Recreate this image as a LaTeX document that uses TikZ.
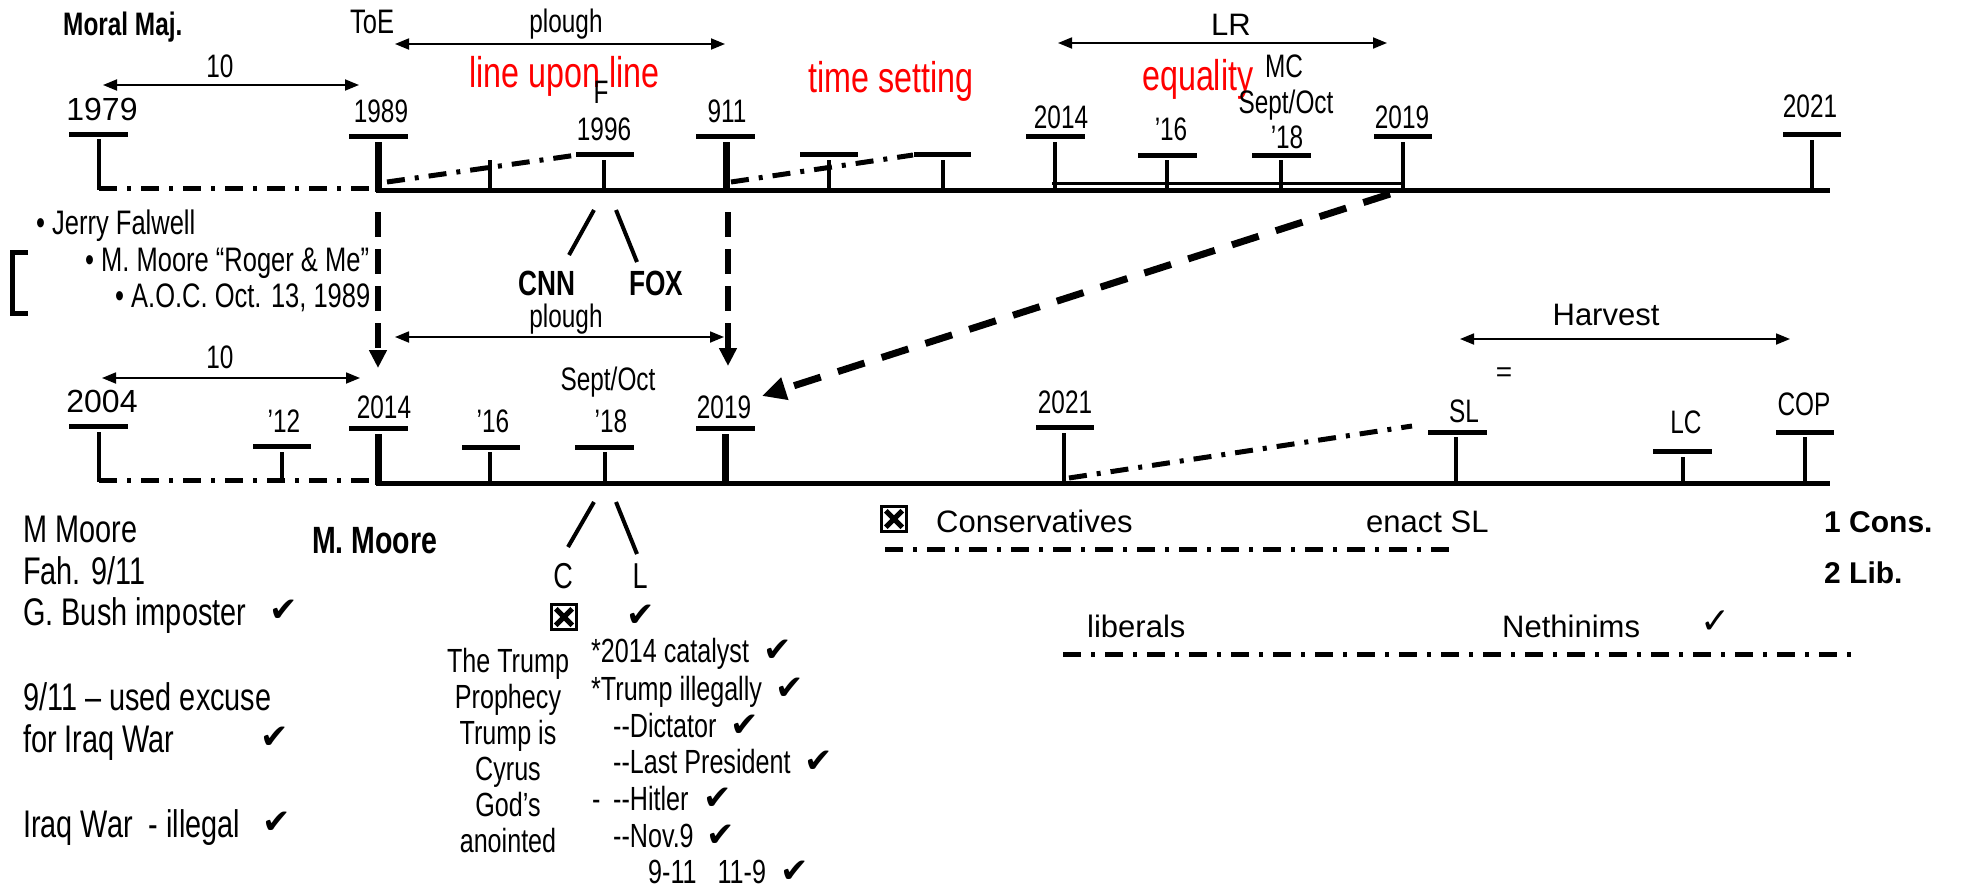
\documentclass[tikz,border=0pt]{standalone}
\usepackage{fontspec}
\setmainfont{Liberation Sans}
\newfontfamily\nf[FakeStretch=0.75]{Liberation Sans}
\newfontfamily\dv{DejaVu Sans}
\usetikzlibrary{arrows.meta}
\newcommand\fs[1]{\fontsize{#1}{#1}\selectfont}
\begin{document}
\begin{tikzpicture}[x=1pt,y=-1pt,
  lab/.style={inner sep=0pt,anchor=base,font=\nf\fs{32.5}},
  labl/.style={inner sep=0pt,anchor=base west,font=\nf\fs{32.5}},
  reg/.style={inner sep=0pt,anchor=base west,font=\fs{31}},
  big/.style={inner sep=0pt,anchor=base west,font=\nf\fs{38.5}},
  mid/.style={inner sep=0pt,anchor=base west,font=\nf\fs{33.5}},
  redtxt/.style={inner sep=0pt,anchor=base west,font=\nf\fs{43},text=red},
  bar/.style={line width=5pt},
  stem/.style={line width=4.5pt},
  bigstem/.style={line width=7pt},
  axis/.style={line width=5pt},
  dd/.style={line width=5pt,dash pattern=on 18pt off 10pt on 4pt off 10pt},
  dim/.style={line width=1.8pt,{Triangle[length=14pt,width=11pt]}-{Triangle[length=14pt,width=11pt]}},
  vdash/.style={line width=6pt,dash pattern=on 25pt off 12pt,-{Triangle[length=18pt,width=17pt]}},
  bigdash/.style={line width=7pt,dash pattern=on 28pt off 18pt,-{Triangle[length=24pt,width=22pt]}},
  chk/.style={inner sep=0pt,anchor=base,font=\dv\fs{34}},
  xbox/.style={draw,line width=3.5pt,minimum size=25pt,inner sep=0pt},
  xmark/.style={line width=5pt},
  slash/.style={line width=4pt}
]
\useasboundingbox (0,0) rectangle (1961,887);

% ---------------- top header ----------------
\node[labl,font=\nf\bfseries\fs{32.5}] (moral) at (63,35) {Moral Maj.};
\node[labl,font=\nf\fs{34}] (toe) at (350,33) {ToE};
\node[lab] (plA) at (566,32) {plough};
\coordinate (plAa) at (395,44); \coordinate (plAb) at (725,44);
\draw[dim] (plAa) -- (plAb);
\node[lab,font=\fs{31}] (lr) at (1231,35) {LR};
\coordinate (lra) at (1058,43); \coordinate (lrb) at (1387,43);
\draw[dim] (lra) -- (lrb);
\node[lab] (tenA) at (220,77) {10};
\coordinate (tenAa) at (103,85); \coordinate (tenAb) at (359,85);
\draw[dim] (tenAa) -- (tenAb);
\node[redtxt] (lul) at (469,87) {line upon line};
\node[redtxt] (ts) at (808,92) {time setting};
\node[redtxt] (eq) at (1142,90) {equality};

% ---------------- top timeline ----------------
\node[lab,font=\fs{32}] (y1979) at (102,120) {1979};
\node[lab] (y1989) at (381,122) {1989};
\node[lab] (F) at (601,103) {F};
\node[lab] (y1996) at (604,140) {1996};
\node[lab] (y911) at (727,122) {911};
\node[lab] (yA2014) at (1061,128) {2014};
\node[lab] (yA16) at (1171,140) {’16};
\node[lab] (mc) at (1284,77) {MC};
\node[lab] (soA) at (1286,113) {Sept/Oct};
\node[lab] (yA18) at (1287,148) {’18};
\node[lab] (yA2019) at (1402,128) {2019};
\node[lab] (yA2021) at (1810,117) {2021};

\draw[bar] (69,134) -- (128,134);  \draw[stem] (99,139) -- (99,190);
\draw[bar] (349,136) -- (408,136); \draw[bigstem] (378,142) -- (378,192);
\draw[stem] (490,160) -- (490,190);
\draw[bar] (576,154) -- (634,154); \draw[stem] (604,160) -- (604,190);
\draw[bar] (696,136) -- (755,136); \draw[bigstem] (726,142) -- (726,192);
\draw[bar] (800,154) -- (858,154); \draw[stem] (829,160) -- (829,190);
\draw[bar] (914,154) -- (971,154); \draw[stem] (943,160) -- (943,190);
\draw[bar] (1026,136) -- (1085,136); \draw[stem] (1055,142) -- (1055,190);
\draw[bar] (1138,155) -- (1197,155); \draw[stem] (1167,160) -- (1167,190);
\draw[bar] (1252,155) -- (1311,155); \draw[stem] (1281,160) -- (1281,190);
\draw[bar] (1374,136) -- (1432,136); \draw[stem] (1403,142) -- (1403,190);
\draw[bar] (1783,134) -- (1841,134); \draw[stem] (1812,140) -- (1812,190);
\draw[axis] (376,190) -- (1830,190);
\draw[line width=3pt] (1052,183) -- (1403,183);
\draw[dd] (99,188) -- (378,188);
\draw[dd] (387,182) -- (577,155);
\draw[dd] (731,182) -- (913,155);

% ---------------- middle ----------------
\node[labl,font=\nf\fs{34}] (b1) at (36,234) {•\ Jerry Falwell};
\node[labl,font=\nf\fs{34}] (b2) at (85,271) {•\ M. Moore “Roger \& Me”};
\node[labl,font=\nf\fs{34}] (b3) at (115,307) {•\ A.O.C. Oct. 13, 1989};
\draw[line width=5pt] (28,252) -- (12,252) -- (12,313) -- (28,313);

\coordinate (dv1a) at (378,212); \coordinate (dv1b) at (378,368);
\coordinate (dv2a) at (728,212); \coordinate (dv2b) at (728,366);
\draw[vdash] (dv1a) -- (dv1b);
\draw[vdash] (dv2a) -- (dv2b);

\draw[slash] (594,210) -- (569,255);
\draw[slash] (616,210) -- (637,262);
\node[lab,font=\nf\bfseries\fs{35}] (cnn) at (547,295) {CNN};
\node[lab,font=\nf\bfseries\fs{35}] (fox) at (656,295) {FOX};

\node[lab] (plB) at (566,327) {plough};
\coordinate (plBa) at (395,337); \coordinate (plBb) at (724,337);
\draw[dim] (plBa) -- (plBb);
\node[lab] (tenB) at (220,368) {10};
\coordinate (tenBa) at (102,378); \coordinate (tenBb) at (360,378);
\draw[dim] (tenBa) -- (tenBb);
\node[lab,font=\fs{31}] (harv) at (1606,325) {Harvest};
\coordinate (hva) at (1460,339); \coordinate (hvb) at (1790,339);
\draw[dim] (hva) -- (hvb);
\node[lab,font=\fs{28}] (eqs) at (1504,381) {=};

\coordinate (bda) at (1390,194); \coordinate (bdb) at (762,396);
\draw[bigdash] (bda) -- (bdb);

% ---------------- lower timeline ----------------
\node[lab,font=\fs{32}] (y2004) at (102,412) {2004};
\node[lab] (yB12) at (284,432) {’12};
\node[lab] (yB2014) at (384,418) {2014};
\node[lab] (yB16) at (493,432) {’16};
\node[lab] (soB) at (608,390) {Sept/Oct};
\node[lab] (yB18) at (611,432) {’18};
\node[lab] (yB2019) at (724,418) {2019};
\node[lab] (yB2021) at (1065,413) {2021};
\node[lab] (sl) at (1464,422) {SL};
\node[lab] (lc) at (1686,433) {LC};
\node[lab] (cop) at (1804,415) {COP};

\draw[bar] (69,426) -- (128,426);  \draw[stem] (99,432) -- (99,482);
\draw[bar] (253,446) -- (311,446); \draw[stem] (282,452) -- (282,480);
\draw[bar] (349,428) -- (408,428); \draw[bigstem] (378,434) -- (378,485);
\draw[bar] (462,447) -- (520,447); \draw[stem] (490,452) -- (490,483);
\draw[bar] (575,447) -- (634,447); \draw[stem] (605,452) -- (605,483);
\draw[bar] (696,428) -- (755,428); \draw[bigstem] (725,434) -- (725,485);
\draw[bar] (1036,427) -- (1094,427); \draw[stem] (1064,433) -- (1064,483);
\draw[bar] (1428,432) -- (1487,432); \draw[stem] (1456,437) -- (1456,485);
\draw[bar] (1653,451) -- (1712,451); \draw[stem] (1683,457) -- (1683,485);
\draw[bar] (1776,432) -- (1834,432); \draw[stem] (1805,437) -- (1805,485);
\draw[axis] (376,483) -- (1830,483);
\draw[dd] (99,480) -- (378,480);
\draw[dd] (1069,478) -- (1412,426);

% ---------------- bottom left ----------------
\node[big] (mm1) at (23,542) {M Moore};
\node[big] (mm2) at (23,584) {Fah. 9/11};
\node[big] (mm3) at (23,625) {G. Bush imposter};
\node[chk] (c1) at (284,621) {✔};
\node[big] (mm4) at (23,710) {9/11 – used excuse};
\node[big] (mm5) at (23,752) {for Iraq War};
\node[chk] (c2) at (275,748) {✔};
\node[big] (mm6) at (23,837) {Iraq War\ \ - illegal};
\node[chk] (c3) at (277,833) {✔};
\node[big,font=\nf\bfseries\fs{38}] (mmb) at (312,553) {M. Moore};

% ---------------- C / L split ----------------
\draw[slash] (594,502) -- (568,547);
\draw[slash] (616,502) -- (637,554);
\node[lab,font=\nf\fs{36}] (cC) at (563,588) {C};
\node[lab,font=\nf\fs{36}] (cL) at (640,588) {L};
\node[xbox] (xb1) at (564,617) {};
\draw[xmark] ([shift={(6,6)}]xb1.north west) -- ([shift={(-6,-6)}]xb1.south east);
\draw[xmark] ([shift={(-6,6)}]xb1.north east) -- ([shift={(6,-6)}]xb1.south west);
\node[chk] (cL1) at (641,626) {✔};

\node[inner sep=0pt,anchor=base,font=\nf\fs{33.5}] (tp1) at (508,672) {The Trump};
\node[inner sep=0pt,anchor=base,font=\nf\fs{33.5}] (tp2) at (508,708) {Prophecy};
\node[inner sep=0pt,anchor=base,font=\nf\fs{33.5}] (tp3) at (508,744) {Trump is};
\node[inner sep=0pt,anchor=base,font=\nf\fs{33.5}] (tp4) at (508,780) {Cyrus};
\node[inner sep=0pt,anchor=base,font=\nf\fs{33.5}] (tp5) at (508,816) {God’s};
\node[inner sep=0pt,anchor=base,font=\nf\fs{33.5}] (tp6) at (508,852) {anointed};

\node[mid] (r1) at (591,662) {*2014 catalyst};
\node[chk] (rc1) at (778,661) {✔};
\node[mid] (r2) at (591,700) {*Trump illegally};
\node[chk] (rc2) at (790,699) {✔};
\node[mid] (r3) at (613,737) {--Dictator};
\node[chk] (rc3) at (745,736) {✔};
\node[mid] (r4) at (613,773) {--Last President};
\node[chk] (rc4) at (819,772) {✔};
\node[mid] (r5a) at (592,810) {-};
\node[mid] (r5) at (613,810) {--Hitler};
\node[chk] (rc5) at (718,809) {✔};
\node[mid] (r6) at (613,847) {--Nov.9};
\node[chk] (rc6) at (721,846) {✔};
\node[mid] (r7) at (648,883) {9-11\ \ \ 11-9};
\node[chk] (rc7) at (795,882) {✔};

% ---------------- bottom right ----------------
\node[xbox] (xb2) at (894,519) {};
\draw[xmark] ([shift={(6,6)}]xb2.north west) -- ([shift={(-6,-6)}]xb2.south east);
\draw[xmark] ([shift={(-6,6)}]xb2.north east) -- ([shift={(6,-6)}]xb2.south west);
\node[reg] (cons) at (936,532) {Conservatives};
\node[reg] (enact) at (1366,532) {enact SL};
\coordinate (cda) at (885,549); \coordinate (cdb) at (1452,549);
\draw[dd] (cda) -- (cdb);
\node[reg,font=\bfseries\fs{30}] (one) at (1824,532) {1 Cons.};
\node[reg,font=\bfseries\fs{30}] (two) at (1824,583) {2 Lib.};
\node[reg] (lib) at (1087,637) {liberals};
\node[reg] (neth) at (1502,637) {Nethinims};
\node[chk,font=\dv\fs{36}] (nc) at (1716,633) {✓};
\coordinate (lda) at (1063,654); \coordinate (ldb) at (1856,654);
\draw[dd] (lda) -- (ldb);
\end{tikzpicture}
\end{document}
